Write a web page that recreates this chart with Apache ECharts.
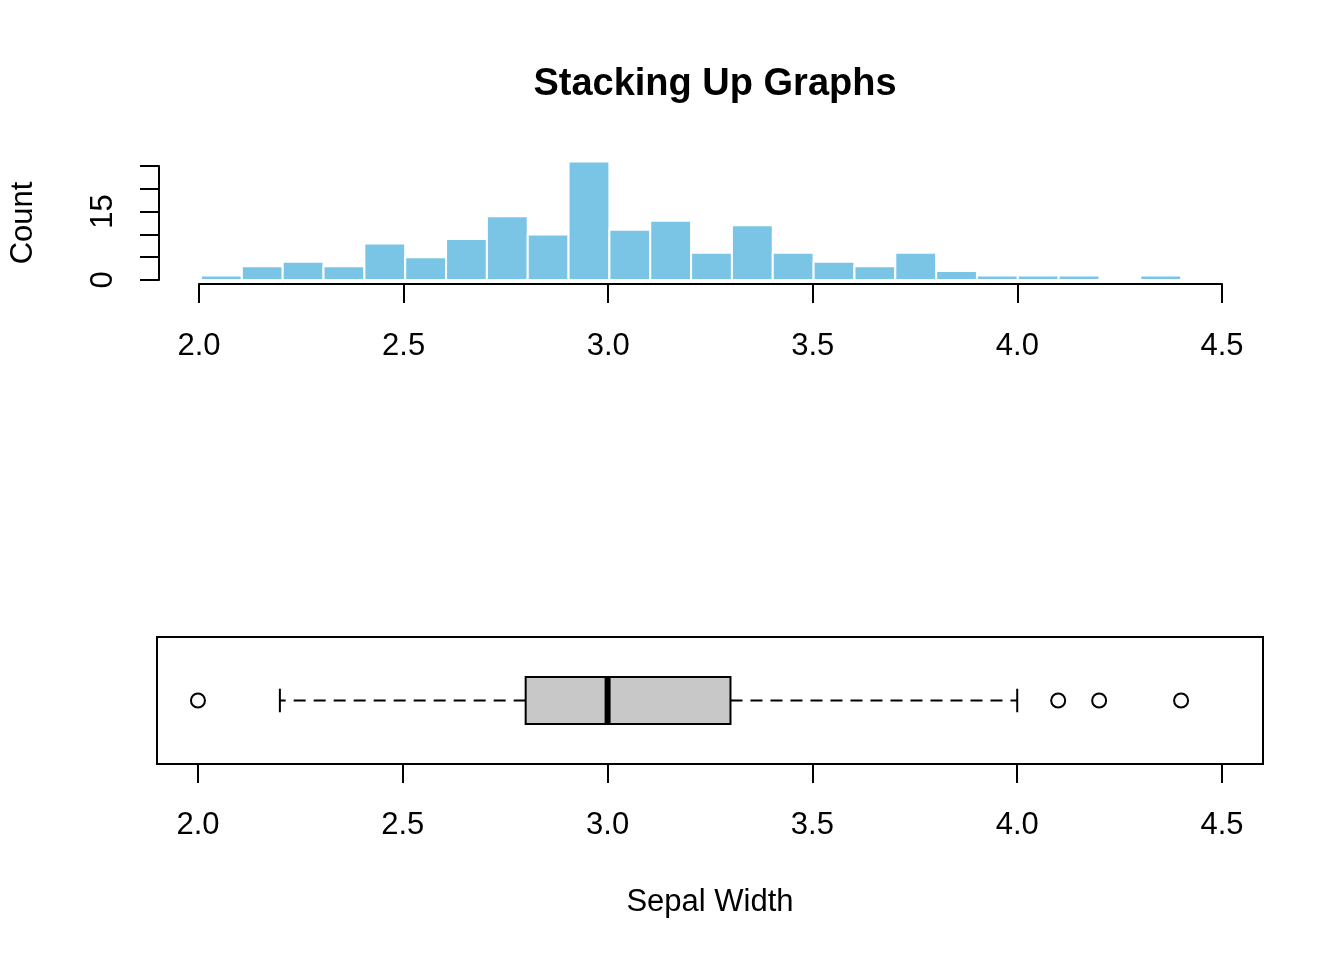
<!DOCTYPE html>
<html>
<head>
<meta charset="utf-8">
<title>Stacking Up Graphs</title>
<script src="https://cdn.jsdelivr.net/npm/echarts@6/dist/echarts.min.js"></script>
<style>
  html, body { margin: 0; padding: 0; background: #fff; }
  #main { width: 1344px; height: 960px; }
</style>
</head>
<body>
<div id="main"></div>
<script>
// histogram bins (sepal width), 0.1 wide
const binStarts = [2.0, 2.1, 2.2, 2.3, 2.4, 2.5, 2.6, 2.7, 2.8, 2.9, 3.0, 3.1,
                   3.2, 3.3, 3.4, 3.5, 3.6, 3.7, 3.8, 3.9, 4.0, 4.1, 4.2, 4.3];
const binWidth = 0.1;
const counts = [1, 3, 4, 3, 8, 5, 9, 14, 10, 26, 11, 13,
                6, 12, 6, 4, 3, 6, 2, 1, 1, 1, 0, 1];

// boxplot: lower whisker, Q1, median, Q3, upper whisker
const boxStats = [2.2, 2.8, 3.0, 3.3, 4.0];
const outliers = [2.0, 4.1, 4.2, 4.4];

// tick labels
const xTicks = [2.0, 2.5, 3.0, 3.5, 4.0, 4.5];
const yLabelsShown = [0, 15];

const FONT = '"Liberation Sans", Arial, Helvetica, sans-serif';
const histRows = binStarts.map((lo, i) => [lo, Math.round((lo + binWidth) * 10) / 10, counts[i]]);

const chart = echarts.init(document.getElementById('main'), null, { renderer: 'canvas' });

const axisLine = { show: true, lineStyle: { color: '#000', width: 2 } };
const axisTick = { show: true, length: 19, lineStyle: { color: '#000', width: 2 } };

const option = {
    backgroundColor: '#ffffff',
    animation: false,
    textStyle: { fontFamily: FONT },
    title: {
        text: 'Stacking Up Graphs',
        left: 710,
        textAlign: 'center',
        top: 61,
        textStyle: { fontFamily: FONT, fontSize: 38, fontWeight: 'bold', color: '#000' }
    },
    grid: [
        // histogram plot area (y = 0 at the bottom edge)
        { left: 199, right: 122, top: 166, bottom: 680 },
        // box plot frame
        { left: 157, right: 81, top: 637, bottom: 196, show: true, borderColor: '#000', borderWidth: 2, backgroundColor: 'transparent' },
        // x axis of the histogram, a little below the bars
        { left: 199, right: 122, top: 166, bottom: 676 }
    ],
    xAxis: [
        { gridIndex: 0, type: 'value', min: 2.0, max: 4.5, show: false },
        {
            gridIndex: 1, type: 'value', min: 1.9, max: 4.6,
            axisLine: { show: false },
            axisTick: Object.assign({ customValues: xTicks }, axisTick),
            axisLabel: { fontSize: 31, color: '#000', margin: 46, fontFamily: FONT, customValues: xTicks, formatter: v => v.toFixed(1) },
            splitLine: { show: false },
            name: 'Sepal Width',
            nameLocation: 'middle',
            nameGap: 123,
            nameTextStyle: { fontSize: 31, color: '#000', fontFamily: FONT }
        },
        {
            gridIndex: 2, type: 'value', min: 2.0, max: 4.5, interval: 0.5,
            axisLine: axisLine,
            axisTick: axisTick,
            axisLabel: { fontSize: 31, color: '#000', margin: 47, fontFamily: FONT, formatter: v => v.toFixed(1) },
            splitLine: { show: false }
        }
    ],
    yAxis: [
        {
            gridIndex: 0, type: 'value', min: 0, max: 25, interval: 5, offset: 42, position: 'left',
            axisLine: axisLine,
            axisTick: axisTick,
            axisLabel: {
                fontSize: 31, color: '#000', rotate: 90, margin: 40, fontFamily: FONT,
                formatter: v => (yLabelsShown.includes(v) ? String(v) : '')
            },
            splitLine: { show: false },
            name: 'Count',
            nameLocation: 'middle',
            nameRotate: 90,
            nameGap: 120,
            nameTextStyle: { fontSize: 31, color: '#000', fontFamily: FONT }
        },
        { gridIndex: 1, type: 'value', min: 0.46, max: 1.54, show: false },
        { gridIndex: 2, type: 'value', min: 0, max: 1, show: false }
    ],
    series: [
        {
            // histogram bars
            type: 'custom',
            xAxisIndex: 0, yAxisIndex: 0,
            data: histRows,
            clip: false,
            renderItem: (params, api) => {
                const n = api.value(2);
                if (!n) return null;
                const p0 = api.coord([api.value(0), 0]);
                const p1 = api.coord([api.value(1), n]);
                return {
                    type: 'rect',
                    shape: { x: p0[0], y: p1[1], width: p1[0] - p0[0], height: p0[1] - p1[1] },
                    style: { fill: '#7AC4E6', stroke: '#ffffff', lineWidth: 2 }
                };
            }
        },
        {
            // box and whiskers
            type: 'custom',
            xAxisIndex: 1, yAxisIndex: 1,
            data: [boxStats],
            renderItem: (params, api) => {
                const [lo, q1, med, q3, hi] = [0, 1, 2, 3, 4].map(i => api.value(i));
                const half = 0.2, cap = 0.1;
                const c = (x, y) => api.coord([x, y]);
                const line = (a, b, style) => ({
                    type: 'line',
                    shape: { x1: a[0], y1: a[1], x2: b[0], y2: b[1] },
                    style: Object.assign({ stroke: '#000', lineWidth: 2 }, style)
                });
                const bTop = c(q1, 1 + half), bBot = c(q3, 1 - half);
                return {
                    type: 'group',
                    children: [
                        line(c(q1, 1), c(lo, 1), { lineDash: [12, 8] }),
                        line(c(q3, 1), c(hi, 1), { lineDash: [12, 8] }),
                        line(c(lo, 1 + cap), c(lo, 1 - cap)),
                        line(c(hi, 1 + cap), c(hi, 1 - cap)),
                        {
                            type: 'rect',
                            shape: { x: bTop[0], y: bTop[1], width: bBot[0] - bTop[0], height: bBot[1] - bTop[1] },
                            style: { fill: '#C8C8C8', stroke: '#000', lineWidth: 2 }
                        },
                        line(c(med, 1 + half), c(med, 1 - half), { lineWidth: 6 })
                    ]
                };
            }
        },
        {
            // outliers
            type: 'scatter',
            xAxisIndex: 1, yAxisIndex: 1,
            data: outliers.map(v => [v, 1]),
            symbol: 'circle',
            symbolSize: 14,
            itemStyle: { color: '#ffffff', borderColor: '#000', borderWidth: 2, opacity: 1 }
        }
    ]
};

chart.setOption(option);
</script>
</body>
</html>
